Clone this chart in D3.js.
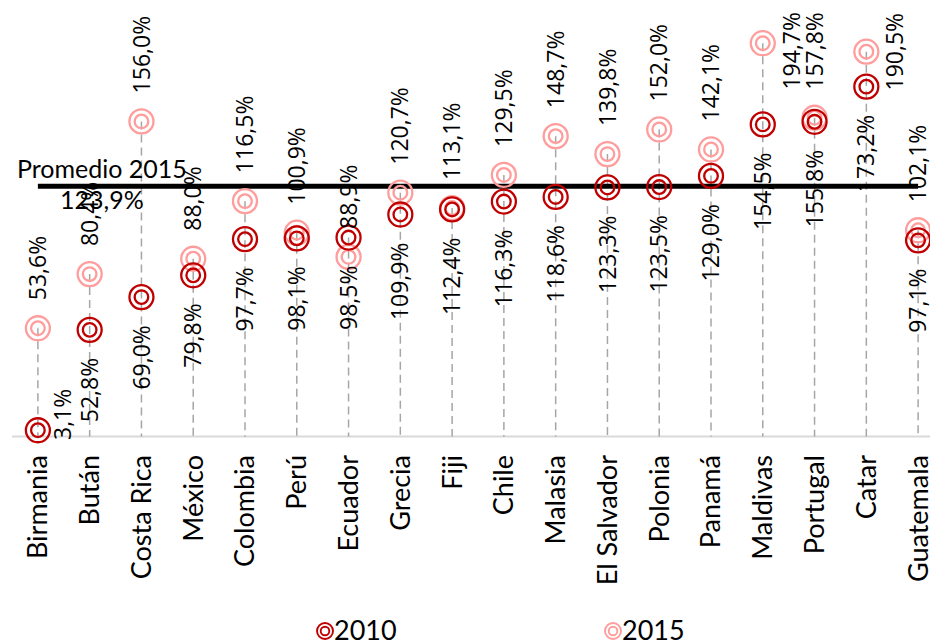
<!DOCTYPE html>
<html>
<head>
<meta charset="utf-8">
<script src="https://cdn.jsdelivr.net/npm/d3@7"></script>
<style>
  body { margin: 0; background: #fff; }
  svg { display: block; }
</style>
</head>
<body>
<div id="app"></div>
<script>
// chart data
const countries = ["Birmania", "Bután", "Costa Rica", "México", "Colombia", "Perú", "Ecuador",
    "Grecia", "Fiji", "Chile", "Malasia", "El Salvador", "Polonia", "Panamá", "Maldivas",
    "Portugal", "Catar", "Guatemala"];
const values2010 = [3.1, 52.8, 69.0, 79.8, 97.7, 98.1, 98.5, 109.9, 112.4, 116.3, 118.6,
    123.3, 123.5, 129.0, 154.5, 155.8, 173.2, 97.1];
const values2015 = [53.6, 80.4, 156.0, 88.0, 116.5, 100.9, 88.9, 120.7, 113.1, 129.5, 148.7,
    139.8, 152.0, 142.1, 194.7, 157.8, 190.5, 102.1];
const promedio2015 = 123.9;
const seriesNames = ["2010", "2015"];

const width = 930;
const height = 643;
const colors = { "2010": "#c00000", "2015": "#ff9c9c" };

const fmt = (v) => v.toFixed(1).replace(".", ",") + "%";

const svg = d3.select("#app")
    .append("svg")
    .attr("width", width)
    .attr("height", height);

// x: one band per country, y: percentage
const x = d3.scaleBand().domain(countries).range([12, 944]);
const cx = (c) => x(c) + x.bandwidth() / 2;
const y = d3.scaleLinear().domain([0, 200]).range([436.5, 32.5]);

const rows = countries.map((c, i) => ({ name: c, v2010: values2010[i], v2015: values2015[i] }));

// base line
svg.append("line")
    .attr("x1", 12).attr("x2", width)
    .attr("y1", y(0)).attr("y2", y(0))
    .attr("stroke", "#d9d9d9")
    .attr("stroke-width", 2);

// drop lines from the highest point to the axis
svg.selectAll(".drop")
    .data(rows)
    .enter()
    .append("line")
    .attr("class", "drop")
    .attr("x1", (d) => cx(d.name)).attr("x2", (d) => cx(d.name))
    .attr("y1", (d) => y(Math.max(d.v2010, d.v2015)))
    .attr("y2", y(0))
    .attr("stroke", "#a6a6a6")
    .attr("stroke-width", 1.5)
    .attr("stroke-dasharray", "8,5");

// average line
svg.append("line")
    .attr("x1", cx(countries[0]))
    .attr("x2", cx(countries[countries.length - 1]))
    .attr("y1", y(promedio2015)).attr("y2", y(promedio2015))
    .attr("stroke", "#000")
    .attr("stroke-width", 5);

function drawMarker(sel, color, r1, r2, sw) {
    sel.append("circle").attr("r", r1).attr("fill", "none")
        .attr("stroke", color).attr("stroke-width", sw);
    sel.append("circle").attr("r", r2).attr("fill", "none")
        .attr("stroke", color).attr("stroke-width", sw);
}

// 2015 first, 2010 on top
["2015", "2010"].forEach((s) => {
    const key = "v" + s;
    svg.selectAll(".m" + s)
        .data(rows)
        .enter()
        .append("g")
        .attr("class", "m" + s)
        .attr("transform", (d) => `translate(${cx(d.name)},${y(d[key])})`)
        .call(drawMarker, colors[s], 12, 6.8, 2.3);
});

// data labels, rotated
const labelFont = "'Open Sans', sans-serif";
const labelSize = 23;
const labelTop = 12, labelBottom = 440;

const labels = svg.append("g");
seriesNames.forEach((s) => {
    const key = "v" + s;
    rows.forEach((d) => {
        const px = cx(d.name);
        const py = y(d[key]);
        const t = labels.append("text")
            .attr("font-family", labelFont)
            .attr("font-size", labelSize)
            .attr("fill", "#000")
            .attr("dy", "0.35em")
            .text(fmt(d[key]));
        const len = t.node().getComputedTextLength();
        let tx = px, ty, anchor;
        if (s === "2010") {
            ty = py + 28; anchor = "end";
            if (ty + len > labelBottom) {
                // no room below: put it to the right
                tx = px + 25; anchor = "middle";
                ty = Math.min(py, labelBottom - len / 2);
            }
        } else {
            ty = py - 28; anchor = "start";
            if (ty - len < labelTop) {
                tx = px + 29; anchor = "middle";
                ty = Math.max(py, labelTop + len / 2);
                // short leader line back to the point
                if (tx - px > 30) {
                    labels.append("path")
                        .attr("d", `M${px},${py} H${px + 10} V${py + 6}`)
                        .attr("fill", "none")
                        .attr("stroke", "#a6a6a6")
                        .attr("stroke-width", 1.5);
                }
            }
        }
        t.attr("text-anchor", anchor)
            .attr("transform", `translate(${tx},${ty}) rotate(-90)`);
    });
});

// average label
const avgLabel = svg.append("text")
    .attr("font-family", "Lato, sans-serif")
    .attr("font-size", 25)
    .attr("text-anchor", "middle")
    .attr("fill", "#000");
avgLabel.append("tspan")
    .attr("x", cx(countries[0]) + 64)
    .attr("y", y(promedio2015) - 8)
    .text("Promedio 2015");
avgLabel.append("tspan")
    .attr("x", cx(countries[0]) + 64)
    .attr("y", y(promedio2015) + 23)
    .text(fmt(promedio2015));

// category labels
svg.selectAll(".cat")
    .data(countries)
    .enter()
    .append("text")
    .attr("class", "cat")
    .attr("font-family", "Lato, sans-serif")
    .attr("font-size", 27)
    .attr("text-anchor", "end")
    .attr("dy", "0.35em")
    .attr("transform", (d) => `translate(${cx(d)},455) rotate(-90)`)
    .text((d) => d);

// legend
const legend = svg.append("g");
const legendX = { "2010": 325, "2015": 613 };
seriesNames.forEach((s) => {
    const g = legend.append("g").attr("transform", `translate(${legendX[s]},631)`);
    g.call(drawMarker, colors[s], 8, 4.3, 1.9);
    g.append("text")
        .attr("x", 9)
        .attr("y", 9)
        .attr("font-family", "Lato, sans-serif")
        .attr("font-size", 27)
        .text(s);
});
</script>
</body>
</html>
